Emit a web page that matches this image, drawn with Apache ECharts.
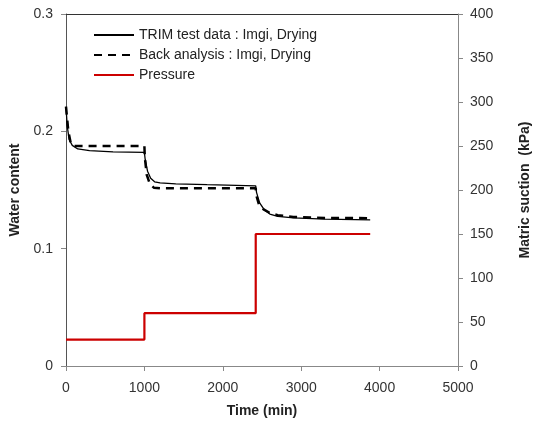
<!DOCTYPE html>
<html><head><meta charset="utf-8">
<script src="https://cdn.jsdelivr.net/npm/echarts@6/dist/echarts.min.js"></script>
<style>html,body{margin:0;padding:0;background:#fff}#c{width:533px;height:423px}</style>
</head><body><div id="c"></div>
<script>
var trimTime = [0, 15, 40, 80, 150, 300, 600, 1000, 1010, 1040, 1080, 1130, 1200, 1400, 1800, 2420, 2430, 2470, 2530, 2600, 2700, 2900, 3300, 3880];
var trimWater = [0.221, 0.205, 0.193, 0.188, 0.185, 0.1835, 0.1825, 0.182, 0.176, 0.166, 0.160, 0.157, 0.156, 0.1553, 0.1545, 0.1535, 0.148, 0.139, 0.133, 0.1295, 0.1275, 0.1262, 0.1252, 0.1245];
var backTime = [0, 30, 60, 90, 1000, 1005, 1030, 1070, 1120, 1200, 2420, 2425, 2460, 2520, 2600, 2700, 2900, 3300, 3880];
var backWater = [0.221, 0.200, 0.190, 0.1875, 0.1875, 0.178, 0.163, 0.155, 0.152, 0.1515, 0.1515, 0.146, 0.138, 0.1335, 0.1305, 0.1285, 0.127, 0.1262, 0.126];
var pressTime = [0, 1000, 1000, 2420, 2420, 3880];
var pressKPa = [30, 30, 60, 60, 150, 150];
var names = ['TRIM test data : Imgi, Drying', 'Back analysis : Imgi, Drying', 'Pressure'];

function zip(a, b) { return a.map(function (v, i) { return [v, b[i]]; }); }
var font = 'Liberation Sans, Arial, sans-serif';
var chart = echarts.init(document.getElementById('c'));
chart.setOption({
  animation: false,
  textStyle: { fontFamily: font },
  grid: { left: 66, right: 75, top: 14, bottom: 57, outerBoundsMode: 'none', containLabel: false },
  legend: {
    orient: 'vertical', left: 88, top: 23, itemWidth: 40, itemHeight: 10, itemGap: 6,
    textStyle: { fontSize: 14, color: '#222', fontFamily: font },
    itemStyle: { opacity: 0 },
    data: names
  },
  xAxis: [{
    type: 'value', min: 0, max: 5000, interval: 1000,
    name: 'Time (min)', nameLocation: 'middle', nameGap: 38,
    nameTextStyle: { fontSize: 14, fontWeight: 'bold', color: '#222' },
    axisLine: { onZero: false, lineStyle: { color: '#888' } },
    axisTick: { show: true, length: 5, lineStyle: { color: '#888' } },
    axisLabel: { fontSize: 14, color: '#333', margin: 15, formatter: function (v) { return String(v); } },
    splitLine: { show: false }
  }, {
    type: 'value', min: 0, max: 5000, position: 'top',
    axisLine: { show: true, onZero: false, lineStyle: { color: '#333' } },
    axisTick: { show: false }, axisLabel: { show: false }, splitLine: { show: false }
  }],
  yAxis: [{
    type: 'value', min: 0, max: 0.3, interval: 0.1,
    name: 'Water content', nameLocation: 'middle', nameGap: 43,
    nameTextStyle: { fontSize: 14, fontWeight: 'bold', color: '#222' },
    axisLine: { show: true, onZero: false, lineStyle: { color: '#555' } },
    axisTick: { show: true, length: 5, lineStyle: { color: '#888' } },
    axisLabel: { fontSize: 14, color: '#333', margin: 13 },
    splitLine: { show: false }
  }, {
    type: 'value', min: 0, max: 400, interval: 50, position: 'right',
    name: 'Matric suction  (kPa)', nameLocation: 'middle', nameGap: 60, nameRotate: 90,
    nameTextStyle: { fontSize: 14, fontWeight: 'bold', color: '#222' },
    axisLine: { show: true, onZero: false, lineStyle: { color: '#888' } },
    axisTick: { show: true, length: 5, lineStyle: { color: '#888' } },
    axisLabel: { fontSize: 14, color: '#333', margin: 12 },
    splitLine: { show: false }
  }],
  series: [{
    name: names[0], type: 'line', data: zip(trimTime, trimWater), showSymbol: false, symbol: 'none',
    lineStyle: { color: '#000', width: 1.3 }, itemStyle: { color: '#000' }
  }, {
    name: names[1], type: 'line', data: zip(backTime, backWater), showSymbol: false, symbol: 'none',
    lineStyle: { color: '#000', width: 2.5, type: [8, 6] }, itemStyle: { color: '#000' }
  }, {
    name: names[2], type: 'line', yAxisIndex: 1, data: zip(pressTime, pressKPa), showSymbol: false, symbol: 'none',
    lineStyle: { color: '#cc0000', width: 2.2 }, itemStyle: { color: '#cc0000' }
  }]
});
</script></body></html>
